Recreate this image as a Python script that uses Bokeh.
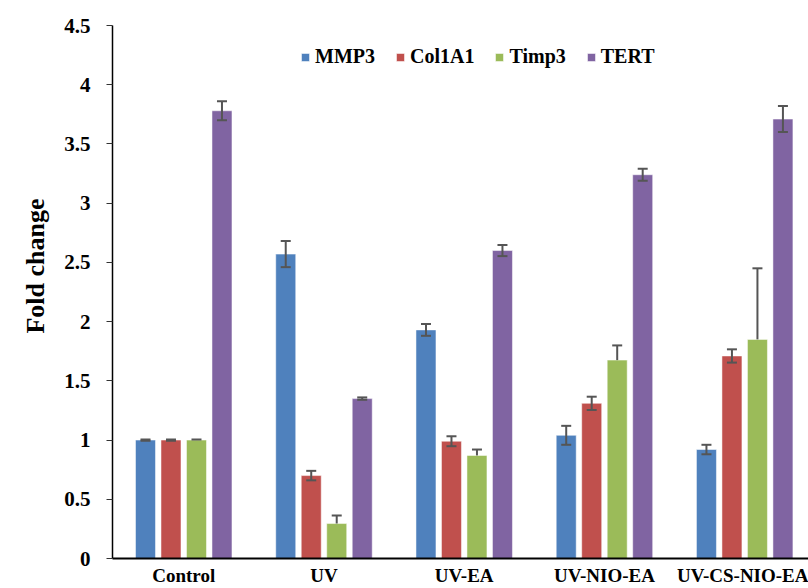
import numpy as np
from bokeh.plotting import figure
from bokeh.models import (ColumnDataSource, Whisker, TeeHead, FixedTicker,
                          NumeralTickFormatter, Range1d, Title)
from bokeh.embed import file_html
from bokeh.resources import INLINE

# ---- data ----
groups = ["Control", "UV", "UV-EA", "UV-NIO-EA", "UV-CS-NIO-EA"]
series = ["MMP3", "Col1A1", "Timp3", "TERT"]
colors = ["#4F81BD", "#C0504D", "#9BBB59", "#8064A2"]

mmp3 = [1.00, 2.57, 1.93, 1.04, 0.92]
mmp3_err = [0.005, 0.11, 0.05, 0.08, 0.04]
col1a1 = [1.00, 0.70, 0.99, 1.31, 1.71]
col1a1_err = [0.005, 0.04, 0.042, 0.056, 0.056]
timp3 = [1.00, 0.295, 0.87, 1.675, 1.85]
timp3_err = [0.005, 0.067, 0.05, 0.124, 0.60]
tert = [3.78, 1.35, 2.60, 3.24, 3.71]
tert_err = [0.08, 0.01, 0.047, 0.05, 0.11]

values = [mmp3, col1a1, timp3, tert]
errors = [mmp3_err, col1a1_err, timp3_err, tert_err]
plus_only = [False, False, True, False]

y_ticks = [0, 0.5, 1, 1.5, 2, 2.5, 3, 3.5, 4, 4.5]
y_title = "Fold change"

FONT = "Liberation Serif"

X0, X1 = -0.508, 4.455
p = figure(width=808, height=588, output_backend="svg", toolbar_location=None,
           x_range=Range1d(X0, X1), y_range=Range1d(0, 4.5),
           min_border_left=112, min_border_right=0, min_border_top=25,
           min_border_bottom=29)
p.outline_line_color = None
p.xgrid.grid_line_color = None
p.ygrid.grid_line_color = None
p.background_fill_color = "white"
p.border_fill_color = "white"

pitch = 0.1818
bw = 0.1426
xs = np.arange(len(groups))
for j, name in enumerate(series):
    x = xs + (j - 1.5) * pitch
    v = np.array(values[j])
    e = np.array(errors[j])
    src = ColumnDataSource(dict(x=x, top=v,
                                upper=v + e,
                                lower=v if plus_only[j] else v - e))
    p.vbar(x="x", top="top", width=bw, source=src, fill_color=colors[j],
           line_color="white", line_alpha=0.5, line_width=1, legend_label=name)
    w = Whisker(base="x", upper="upper", lower="lower", source=src,
                line_color="#555555", line_width=2, level="overlay",
                upper_head=TeeHead(size=10, line_color="#555555", line_width=2),
                lower_head=None if plus_only[j] else TeeHead(size=10, line_color="#555555", line_width=2))
    p.add_layout(w)

# x axis
xa = p.xaxis[0]
xa.ticker = FixedTicker(ticks=list(range(len(groups))))
xa.major_label_overrides = {i: g for i, g in enumerate(groups)}
xa.major_tick_out = 0
xa.major_tick_in = 0
xa.minor_tick_out = 0
xa.minor_tick_in = 0
xa.axis_line_color = "black"
xa.axis_line_width = 2
xa.major_label_text_font = FONT
xa.major_label_text_font_style = "bold"
xa.major_label_text_font_size = "19px"
xa.major_label_text_color = "black"
xa.major_label_standoff = 6

# y axis
ya = p.yaxis[0]
ya.ticker = FixedTicker(ticks=y_ticks)
ya.formatter = NumeralTickFormatter(format="0.[0]")
ya.major_tick_out = 6
ya.major_tick_in = 0
ya.minor_tick_out = 0
ya.minor_tick_in = 0
ya.axis_line_color = "black"
ya.axis_line_width = 1.5
ya.major_tick_line_color = "#333333"
ya.major_label_text_font = FONT
ya.major_label_text_font_style = "bold"
ya.major_label_text_font_size = "21px"
ya.major_label_text_color = "black"
ya.major_label_standoff = 16

# y title as a left-side title, shifted a little above centre
p.add_layout(Title(text=y_title, align="right", offset=173, standoff=24,
                   text_font=FONT, text_font_style="bold",
                   text_font_size="26px", text_color="black"), "left")

# legend
lg = p.legend[0]
lg.orientation = "horizontal"
lg.location = (188, 490)
lg.border_line_color = None
lg.background_fill_alpha = 0
lg.padding = 0
lg.margin = 0
lg.spacing = 20
lg.glyph_width = 10
lg.glyph_height = 10
lg.label_standoff = 5
lg.label_text_font = FONT
lg.label_text_font_style = "bold"
lg.label_text_font_size = "20px"
lg.label_text_color = "black"

open("out.html", "w").write(file_html(p, INLINE))
